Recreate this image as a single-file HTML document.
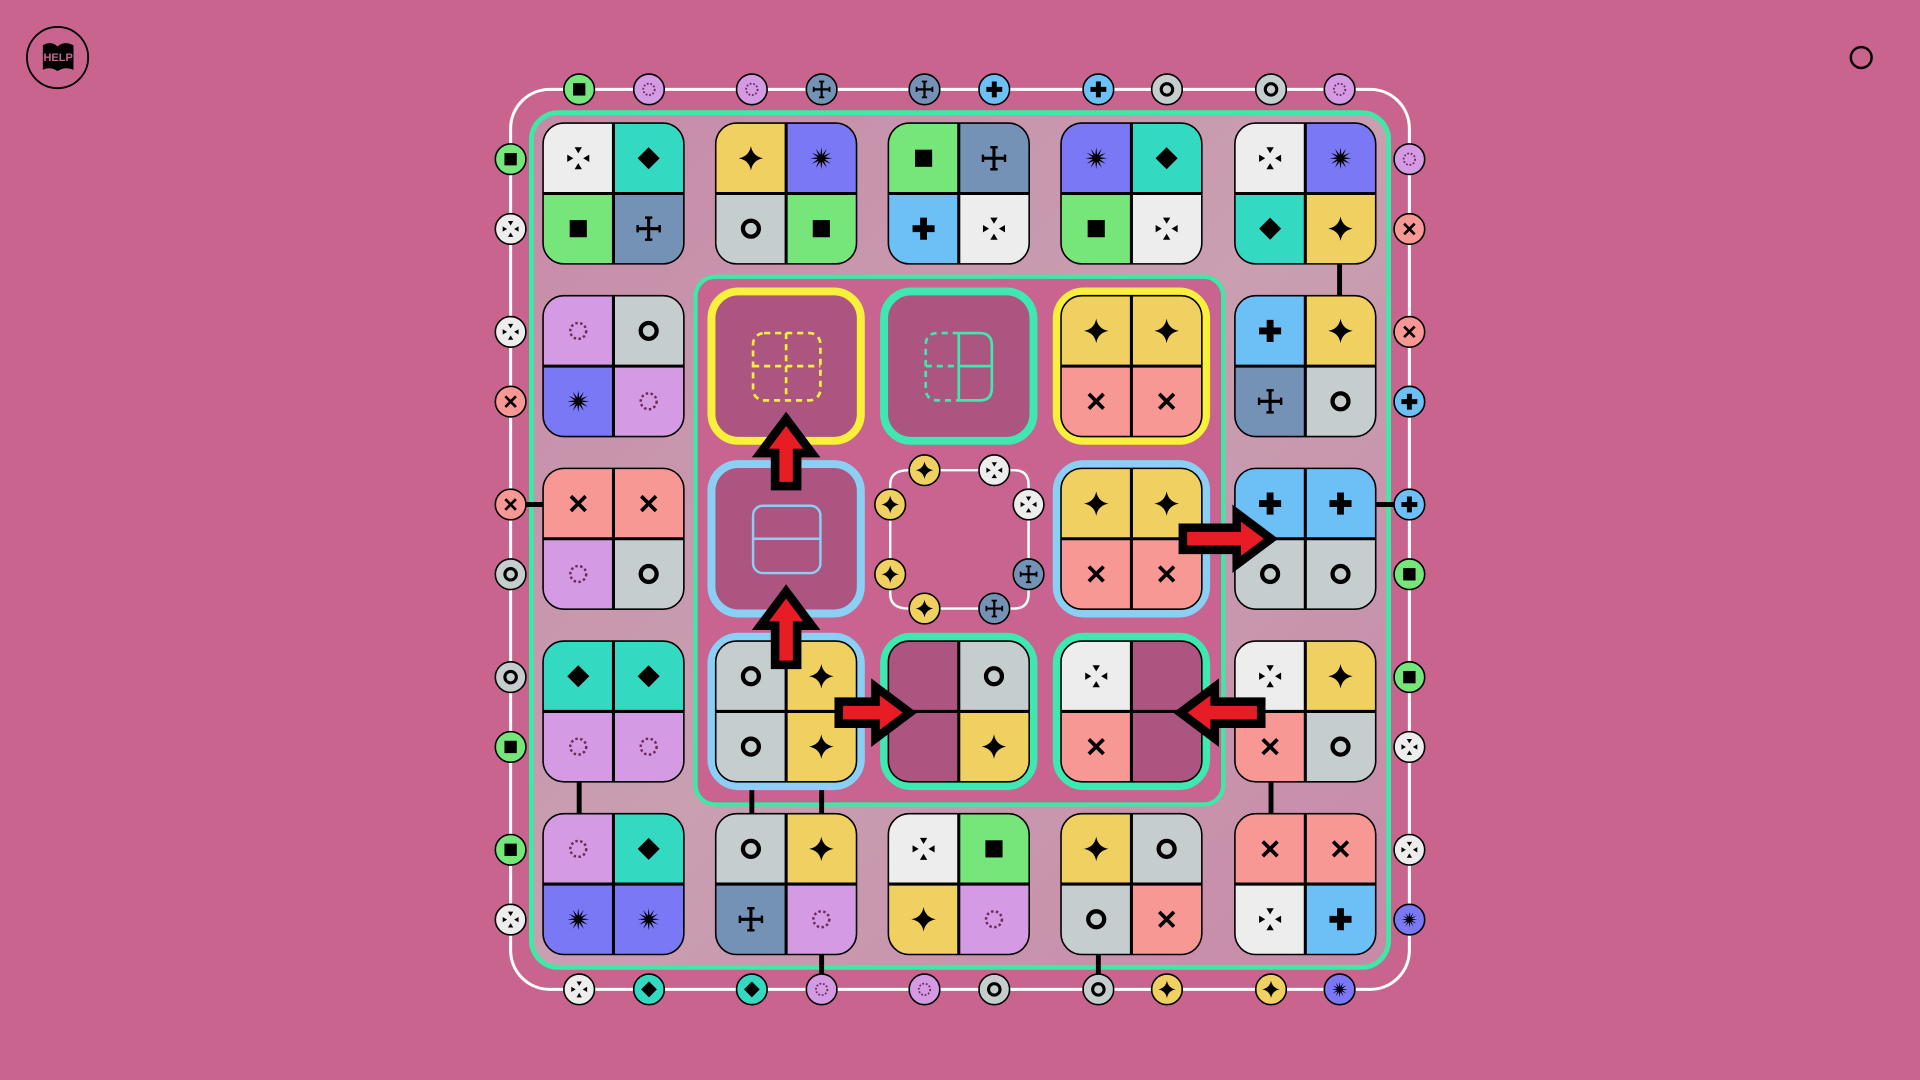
<!DOCTYPE html>
<html><head><meta charset="utf-8"><style>
html,body{margin:0;padding:0;width:1920px;height:1080px;overflow:hidden;background:#c9648f}
svg{display:block}
</style></head><body>
<svg id="s" width="1920" height="1080" viewBox="0 0 1568 882" xmlns="http://www.w3.org/2000/svg">
<defs>
<linearGradient id="lg" x1="0" y1="0" x2="1" y2="1">
<stop offset="0" stop-color="#c78aa8"/><stop offset="0.5" stop-color="#c99fb1"/><stop offset="1" stop-color="#c78aa8"/>
</linearGradient>
</defs>
<circle cx="47" cy="47" r="25" fill="none" stroke="#000" stroke-width="1.5"/>
<path d="M35 37 Q42 33 47 38 Q52 33 60 37 L60 57 Q53 54 47 58 Q41 54 35 57 Z" fill="#000"/>
<text x="47.5" y="50" font-family="Liberation Sans, sans-serif" font-weight="bold" font-size="9" fill="#c9648f" text-anchor="middle">HELP</text>
<circle cx="1520" cy="47" r="8.5" fill="none" stroke="#000" stroke-width="2"/>
<rect x="417" y="73" width="734" height="735" rx="32" fill="none" stroke="#fff" stroke-width="2.5"/>
<rect x="434" y="92" width="700" height="698" rx="22" fill="url(#lg)" stroke="#3ee8a6" stroke-width="4"/>
<rect x="568" y="226" width="431" height="431" rx="16" fill="#c8648f" stroke="#3ee8a6" stroke-width="3.5"/>
<path d="M742 384 H828 Q840 384 840 396 V485 Q840 497 828 497 H742 Q727 497 727 485 V396 Q727 384 742 384 Z" fill="none" stroke="#fff" stroke-width="2"/>
<g id="g"></g>
</svg>
<script>
(function(){
const C={W:'#ededed',T:'#33d9c1',G:'#77e67a',S:'#7491b6',Y:'#f0d060',P:'#7b78f5',R:'#c6cdcf',B:'#6cc0f5',L:'#d49ae4',K:'#f79894',D:'#ab5580'};
const I={W:'arrows',T:'diamond',G:'square',S:'cross',Y:'star4',P:'burst',R:'ring',B:'plus',L:'dotted',K:'x'};
let out='';
function icon(k,x,y,s){
 const t=I[k];let h='<g transform="translate('+x+' '+y+') scale('+s+')">';
 if(t=='square')h+='<rect x="-7" y="-7" width="14" height="14" fill="#000"/>';
 else if(t=='diamond')h+='<polygon points="0,-9 9,0 0,9 -9,0" fill="#000"/>';
 else if(t=='star4')h+='<path d="M0-10Q1.5-1.5 10 0Q1.5 1.5 0 10Q-1.5 1.5-10 0Q-1.5-1.5 0-10Z" fill="#000"/>';
 else if(t=='burst'){let p=[];for(let i=0;i<24;i++){let r=i%2?3:9,a=i*Math.PI/12;p.push((r*Math.cos(a)).toFixed(2)+','+(r*Math.sin(a)).toFixed(2));}h+='<polygon points="'+p.join(' ')+'" fill="#000"/>';}
 else if(t=='ring')h+='<circle r="6.5" fill="none" stroke="#000" stroke-width="3.5"/>';
 else if(t=='plus')h+='<path d="M-2.8-9H2.8V-2.8H9V2.8H2.8V9H-2.8V2.8H-9V-2.8H-2.8Z" fill="#000"/>';
 else if(t=='x')h+='<path d="M-6-6L6 6M6-6L-6 6" stroke="#000" stroke-width="3"/>';
 else if(t=='cross')h+='<path d="M0-9V9M-9 0H9" stroke="#000" stroke-width="2.5"/><path d="M-3-9H3M-3 9H3M-9-3V3M9-3V3" stroke="#000" stroke-width="2"/>';
 else if(t=='dotted')h+='<circle r="6.5" fill="none" stroke="#6a2a55" stroke-width="2" stroke-dasharray="2 2"/>';
 else if(t=='arrows')h+='<polygon points="-3,-9 3,-9 0,-4" fill="#000"/><polygon points="-3,9 3,9 0,4" fill="#000"/><polygon points="-9,-3 -9,3 -4,0" fill="#000"/><polygon points="9,-3 9,3 4,0" fill="#000"/>';
 return h+'</g>';
}
let cid=0;
function tile(cx,cy,q){
 const s=57.5,x=cx-s,y=cy-s;cid++;
 let h='<clipPath id="c'+cid+'"><rect x="'+x+'" y="'+y+'" width="115" height="115" rx="17"/></clipPath><g clip-path="url(#c'+cid+')">';
 const pos=[[x,y],[cx,y],[x,cy],[cx,cy]];
 q.forEach(function(k,i){h+='<rect x="'+pos[i][0]+'" y="'+pos[i][1]+'" width="57.5" height="57.5" fill="'+C[k]+'"/>';});
 h+='</g><path d="M'+cx+' '+y+'V'+(y+115)+'M'+x+' '+cy+'H'+(x+115)+'" stroke="#000" stroke-width="2.5"/><rect x="'+x+'" y="'+y+'" width="115" height="115" rx="17" fill="none" stroke="#000" stroke-width="1.3"/>';
 q.forEach(function(k,i){if(k!='D')h+=icon(k,pos[i][0]+28.75,pos[i][1]+28.75,1);});
 return h;
}
function frame(cx,cy,col){return '<rect x="'+(cx-61)+'" y="'+(cy-61)+'" width="122" height="122" rx="22" fill="'+C.D+'" stroke="'+col+'" stroke-width="6.5"/>';}
function node(k,x,y){return '<circle cx="'+x+'" cy="'+y+'" r="12.5" fill="'+C[k]+'" stroke="#000" stroke-width="1.3"/>'+icon(k,x,y,0.72);}
function line(x1,y1,x2,y2){return '<path d="M'+x1+' '+y1+'L'+x2+' '+y2+'" stroke="#000" stroke-width="4"/>';}
const cols=[501,642,783,924,1066],rows=[158,299,440,581,722];
out+=line(1094,215,1094,243)+line(417,412,444,412)+line(1124,412,1151,412)+line(473,638,473,666)+line(614,638,614,666)+line(671,638,671,666)+line(1038,638,1038,666)+line(671,780,671,808)+line(897,780,897,808);
const TL={
'0,0':'WTGS','0,1':'YPRG','0,2':'GSBW','0,3':'PTGW','0,4':'WPTY',
'1,0':'LRPL','1,4':'BYSR','2,0':'KKLR','2,4':'BBRR','3,0':'TTLL','3,4':'WYKR',
'4,0':'LTPP','4,1':'RYSL','4,2':'WGYL','4,3':'YRRK','4,4':'KKWB'};
for(const k in TL){const rc=k.split(',').map(Number);out+=tile(cols[rc[1]],rows[rc[0]],TL[k].split(''));}
const Yf='#f8f03a',Gf='#3ee8b0',Bf='#8ccff5';
out+=frame(642,299,Yf)+'<g fill="none" stroke="'+Yf+'" stroke-width="2.2" stroke-dasharray="5 4"><rect x="615" y="272" width="55" height="55" rx="9"/><path d="M642 272V327M615 299H670"/></g>';
out+=frame(783,299,Gf)+'<g fill="none" stroke="'+Gf+'" stroke-width="2.2"><path d="M783 272H800Q810 272 810 282V317Q810 327 800 327H783V272M783 299H810"/><path d="M783 272H766Q756 272 756 282V317Q756 327 766 327H783M756 299H783" stroke-dasharray="5 4"/></g>';
out+=frame(924,299,Yf)+tile(924,299,'YYKK'.split(''));
out+=frame(642,440,Bf)+'<g fill="none" stroke="'+Bf+'" stroke-width="2"><rect x="615" y="413" width="55" height="55" rx="8"/><path d="M615 440H670"/></g>';
out+=frame(924,440,Bf)+tile(924,440,'YYKK'.split(''));
out+=frame(642,581,Bf)+tile(642,581,'RYRY'.split(''));
out+=frame(783,581,Gf)+tile(783,581,'DRDY'.split(''));
out+=frame(924,581,Gf)+tile(924,581,'WDKD'.split(''));
const nTop='GLLSSBBRRL',nLeft='GWWKKRRGGW',nRight='LKKBBGGWWP',nBot='WTTLLRRYYP';
const xs=[473,530,614,671,755,812,897,953,1038,1094],ys=[130,187,271,328,412,469,553,610,694,751];
for(let i=0;i<10;i++){out+=node(nTop[i],xs[i],73)+node(nBot[i],xs[i],808)+node(nLeft[i],417,ys[i])+node(nRight[i],1151,ys[i]);}
out+=node('Y',755,384)+node('W',812,384)+node('Y',727,412)+node('W',840,412)+node('Y',727,469)+node('S',840,469)+node('Y',755,497)+node('S',812,497);
function arrow(tx,ty,dir,len){
 const hw=21,sw=9,hl=28;const p=[[0,0],[hl,-hw],[hl,-sw],[len,-sw],[len,sw],[hl,sw],[hl,hw]];
 let m;
 if(dir=='up')m=function(a,b){return [tx+b,ty+a];};
 else if(dir=='right')m=function(a,b){return [tx-a,ty+b];};
 else m=function(a,b){return [tx+a,ty+b];};
 const pts=p.map(function(v){return m(v[0],v[1]).join(',');}).join(' ');
 return '<polygon points="'+pts+'" fill="#e81c24" stroke="#000" stroke-width="7" stroke-linejoin="miter"/>';
}
out+=arrow(642,342,'up',55)+arrow(642,483,'up',60)+arrow(1038,440,'right',72)+arrow(743,582,'right',58)+arrow(964,582,'left',66);
document.getElementById('g').innerHTML=out;
})();
</script>
</body></html>
